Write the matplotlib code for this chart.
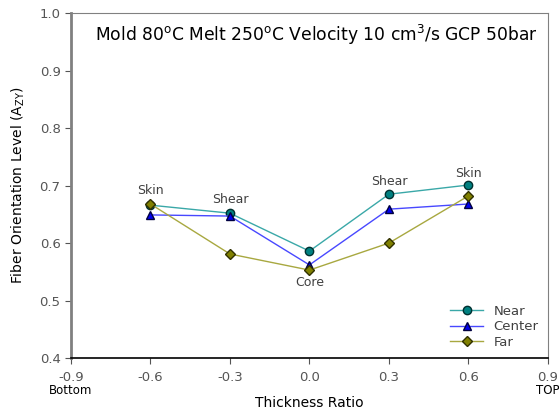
import numpy as np
import matplotlib.pyplot as plt

# thickness positions and orientation levels
ratio = [-0.6, -0.3, 0.0, 0.3, 0.6]
near = [0.666, 0.652, 0.586, 0.685, 0.701]
center = [0.649, 0.647, 0.562, 0.659, 0.668]
far = [0.668, 0.581, 0.553, 0.600, 0.682]

layers = ['Skin', 'Shear', 'Core', 'Shear', 'Skin']
layer_y = [0.681, 0.665, 0.520, 0.696, 0.710]

fig = plt.figure(figsize=(5.59, 4.12), dpi=100)
ax = fig.add_axes([0.127, 0.131, 0.853, 0.837])

ax.plot(ratio, near, '-o', color='#3aa8a8', mfc='#008080', mec='#003030',
        ms=6, lw=1, label='Near')
ax.plot(ratio, center, '-^', color='#4848ff', mfc='#0000ee', mec='#000040',
        ms=6, lw=1, label='Center')
ax.plot(ratio, far, '-D', color='#a8a840', mfc='#808000', mec='#303000',
        ms=5.5, lw=1, label='Far')

for x, y, s in zip(ratio, layer_y, layers):
    ax.text(x, y, s, ha='center', va='bottom', fontsize=9, color='#404040')

ax.set_xlim(-0.9, 0.9)
ax.set_ylim(0.4, 1.0)
ax.set_xticks([-0.9, -0.6, -0.3, 0.0, 0.3, 0.6, 0.9])
ax.set_xticklabels(['-0.9', '-0.6', '-0.3', '0.0', '0.3', '0.6', '0.9'])
ax.set_yticks(np.arange(0.4, 1.01, 0.1))
ax.set_yticklabels(['%.1f' % v for v in np.arange(0.4, 1.01, 0.1)])
ax.tick_params(colors='#555555', labelsize=9.5, direction='out', length=4)
ax.tick_params(axis='x', pad=5)

ax.text(-0.9, -0.075, 'Bottom', transform=ax.get_xaxis_transform(),
        ha='center', va='top', fontsize=8.5, color='black')
ax.text(0.9, -0.075, 'TOP', transform=ax.get_xaxis_transform(),
        ha='center', va='top', fontsize=8.5, color='black', clip_on=False)

for side in ['top', 'right', 'left']:
    ax.spines[side].set_color('#808080')
ax.spines['left'].set_linewidth(2)
ax.spines['bottom'].set_color('black')
ax.spines['bottom'].set_linewidth(1.2)

ax.set_xlabel('Thickness Ratio', fontsize=10, labelpad=9)
ax.set_ylabel('Fiber Orientation Level (A$_{\\mathrm{ZY}}$)', fontsize=10, labelpad=9)

ax.text(0.515, 0.972, 'Mold 80$^\\mathrm{o}$C Melt 250$^\\mathrm{o}$C Velocity 10 cm$^\\mathrm{3}$/s GCP 50bar',
        transform=ax.transAxes, ha='center', va='top', fontsize=12.3)

ax.legend(loc='lower right', frameon=False, fontsize=9.5, handlelength=2.5,
          labelcolor='#404040', borderaxespad=0.3, labelspacing=0.2)

fig.savefig('out.png', dpi=100)
